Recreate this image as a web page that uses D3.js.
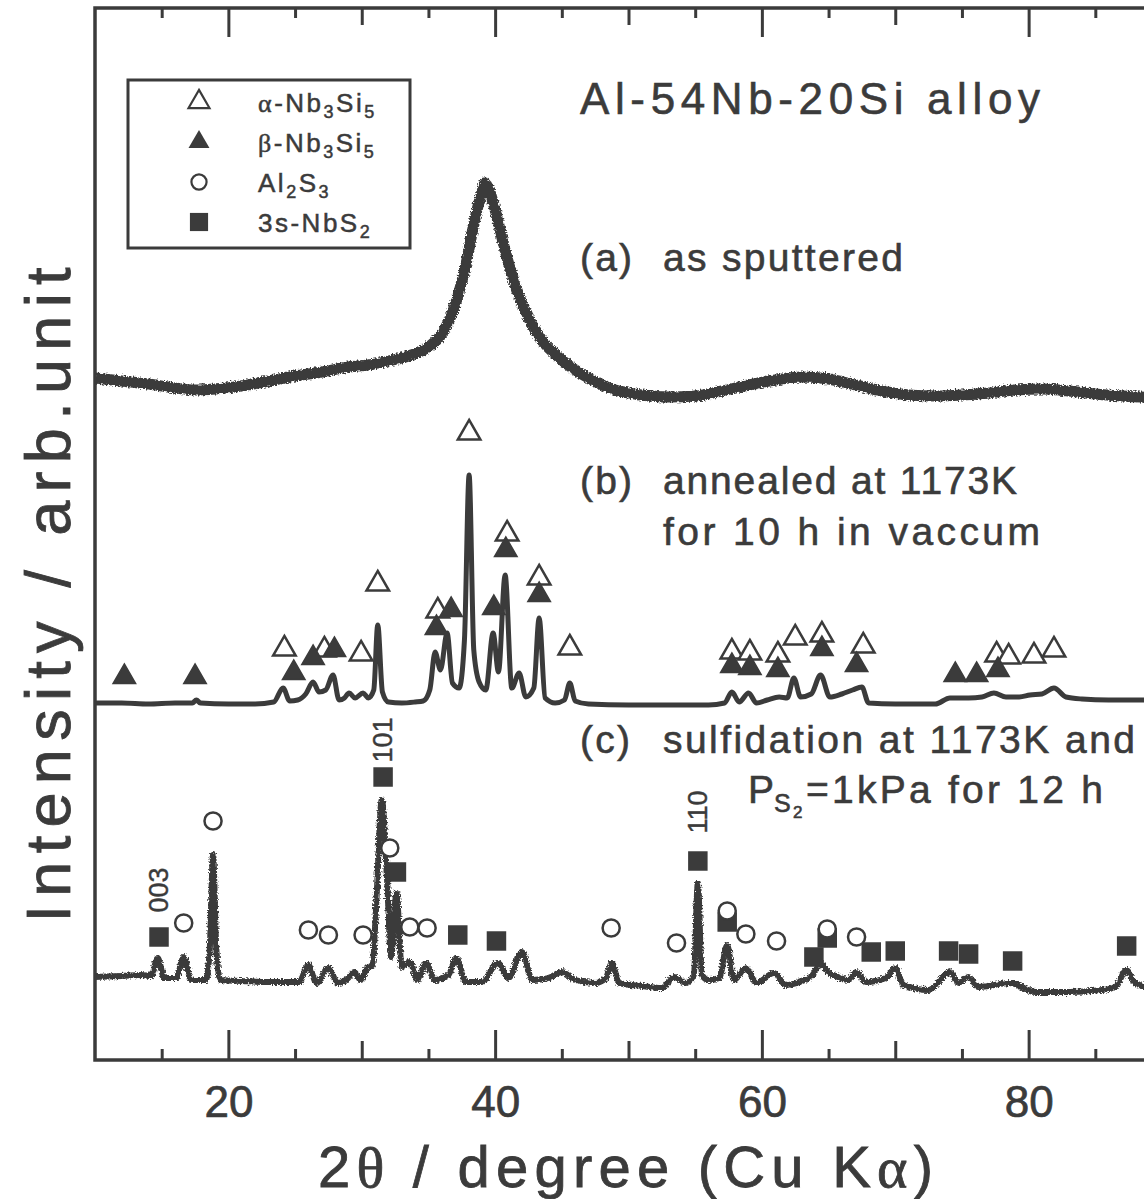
<!DOCTYPE html>
<html><head><meta charset="utf-8">
<script src="https://cdn.jsdelivr.net/npm/d3@7"></script>
<style>body{margin:0;background:#fff} svg{display:block}</style>
</head><body>
<script>
// ---------- data (2θ in degrees, intensity in arb. units on a common stacked scale) ----------
const xMajorTicks = [20, 40, 60, 80];
const xMediumTicks = [30, 50, 70];
const xMinorTicks = [15, 25, 35, 45, 55, 65, 75, 85];

const traceA = [[10,682],[12,679],[14,676],[16,672],[17.5,670],[19,671],[21,674],[23,679],[25,684],[27,688],[29,693],[30.5,695],[32,699],[33.5,704],[35,713],[36,726],[37,755],[37.8,795],[38.5,842],[39.0,868],[39.2,877],[39.5,872],[40.0,850],[40.7,812],[41.5,775],[42.5,742],[43.5,720],[45,700],[47,682],[49,670],[51,665],[53,663],[55,664],[57,669],[59,675],[61,680],[63,683],[65,681],[67,675],[69,669],[71,665],[73,664],[75,665],[77,667],[79,670],[81,671],[83,669],[85,666],[87,664],[90,662]];

const traceB = [[10,357],[12,357],[14,356],[16,357],[17.3,357],[17.6,360],[17.9,357],[20,356],[22,356],[23.4,358],[24.1,372],[24.6,359],[25.2,360],[25.8,366],[26.35,378],[26.8,368],[27.3,370],[27.85,385],[28.3,360],[28.7,362],[29.05,367],[29.5,362],[30.1,367],[30.5,362],[30.9,370],[31.2,435],[31.55,368],[32.0,358],[33,357],[34,358],[34.6,359],[35.1,370],[35.5,408],[35.9,390],[36.4,427],[36.8,377],[37.3,372],[37.7,420],[38.05,585],[38.4,410],[38.8,378],[39.3,370],[39.85,427],[40.25,388],[40.75,485],[41.25,372],[41.8,387],[42.3,363],[42.9,372],[43.3,442],[43.75,362],[44.5,357],[45.2,360],[45.6,377],[46.0,359],[47,356],[50,355],[53,355],[56,355],[57.2,357],[57.75,368],[58.3,358],[59.0,367],[59.6,357],[60.4,360],[61.3,363],[61.9,362],[62.4,382],[62.9,363],[63.7,366],[64.4,385],[65.1,363],[66.0,366],[66.8,370],[67.5,373],[68.0,357],[70,356],[73,356],[74.1,362],[75.5,362],[76.5,363],[77.4,367],[78.3,363],[79.3,363],[80.1,365],[81.0,366],[81.9,372],[82.8,363],[84,361],[86,360],[88,360],[90,360]];

const traceC = [[10,83],[12,84],[13.5,85],[14.2,84],[14.7,102],[15.2,82],[16.1,82],[16.65,103],[17.2,80],[18.3,80],[18.6,110],[18.85,205],[19.1,110],[19.4,80],[21,79],[23,78],[25.3,78],[26.0,95],[26.6,77],[27.5,92],[28.2,77],[28.9,81],[29.45,88],[29.9,80],[30.4,92],[30.8,95],[31.1,160],[31.5,260],[31.9,180],[32.2,103],[32.6,167],[33.0,93],[33.6,98],[34.2,80],[34.8,97],[35.5,80],[36.5,85],[37.1,102],[37.8,78],[39,78],[40.2,97],[41.0,82],[42.0,108],[42.8,80],[44,82],[45.0,88],[46,80],[47.5,77],[48.3,82],[48.75,97],[49.3,77],[51,74],[52.5,72],[53.4,83],[54.3,77],[54.9,85],[55.2,177],[55.5,85],[56.0,80],[56.8,82],[57.4,115],[57.9,80],[58.8,92],[59.6,77],[60.9,87],[61.8,75],[62.8,78],[63.8,85],[64.4,97],[64.8,90],[65.7,83],[66.5,80],[67.1,88],[67.8,78],[69.3,82],[70.0,92],[70.6,75],[72.5,70],[74.1,88],[74.7,77],[75.5,83],[76.2,73],[78.6,77],[80.5,68],[83,68],[85.5,70],[86.5,73],[87.35,90],[87.9,78],[89,73],[90,73]];

// peak identification markers [2θ, marker height]
const alphaNb3Si5 = [[24.2,411],[27.2,410],[29.95,406],[31.2,476],[35.7,449],[38.05,627],[40.9,526],[43.3,482],[45.6,412],[57.75,408],[59.1,407],[61.2,405],[62.5,422],[64.5,425],[67.6,414],[77.6,405],[78.5,403],[80.4,404],[81.9,410]];
const betaNb3Si5 = [[12.2,383],[17.5,383],[24.9,387],[26.35,402],[27.95,410],[35.6,432],[36.7,450],[39.9,452],[40.8,510],[43.3,465],[57.75,394],[59.1,392],[61.2,390],[64.5,411],[67.1,395],[74.5,385],[76.1,385],[77.7,390]];
const al2S3 = [[16.65,137],[18.85,239],[26.0,130],[27.5,125],[30.1,125],[32.1,212],[33.6,133],[34.9,132],[48.7,132],[53.6,117],[57.4,149],[58.8,126],[61.1,119],[64.9,131],[67.1,123]];
const nbS2 = [[14.8,123],[31.6,283],[32.6,188],[37.2,125],[40.1,119],[55.2,199],[57.4,138],[63.9,103],[64.9,122],[68.2,108],[70.0,109],[74.0,109],[75.5,106],[78.8,99],[87.35,114]];
const hklLabels = [["003",14.8,170],["101",31.6,320],["110",55.2,248]];

const legendItems = [
  {sym:"openTri", parts:[["α","g"],["-Nb",""],["3","s"],["Si",""],["5","s"]]},
  {sym:"fillTri", parts:[["β","g"],["-Nb",""],["3","s"],["Si",""],["5","s"]]},
  {sym:"circle",  parts:[["Al",""],["2","s"],["S",""],["3","s"]]},
  {sym:"square",  parts:[["3s-NbS",""],["2","s"]]}
];

// ---------- drawing ----------
const W = 1144, H = 1199;
const ink = "#3b3b3b";
const sans = "'Liberation Sans', Arial, Helvetica, sans-serif";
const serif = "'Liberation Serif', 'DejaVu Serif', serif";

const svg = d3.select("body").append("svg").attr("width", W).attr("height", H)
  .style("font-family", sans);
svg.append("rect").attr("width", W).attr("height", H).attr("fill", "#fff");

const defs = svg.append("defs");
const rough = defs.append("filter").attr("id", "rough").attr("x", "-5%").attr("y", "-20%")
  .attr("width", "110%").attr("height", "140%");
rough.append("feTurbulence").attr("type", "fractalNoise").attr("baseFrequency", 0.6)
  .attr("numOctaves", 2).attr("seed", 3).attr("result", "n");
rough.append("feDisplacementMap").attr("in", "SourceGraphic").attr("in2", "n")
  .attr("scale", 5).attr("xChannelSelector", "R").attr("yChannelSelector", "G");

const x = d3.scaleLinear().domain([10, 90]).range([95, 1162]);
const y = d3.scaleLinear().domain([0, 1052]).range([1060, 8]);

defs.append("clipPath").attr("id", "plotclip").append("rect")
  .attr("x", x(10)).attr("y", y(1052)).attr("width", x(90) - x(10)).attr("height", y(0) - y(1052));

const line = d3.line().x(d => x(d[0])).y(d => y(d[1])).curve(d3.curveMonotoneX);
const g = svg.append("g").attr("clip-path", "url(#plotclip)");
g.append("path").datum(traceA).attr("d", line).attr("fill", "none").attr("stroke", ink)
  .attr("stroke-width", 11).attr("stroke-linejoin", "round").attr("filter", "url(#rough)");
g.append("path").datum(traceB).attr("d", line).attr("fill", "none").attr("stroke", ink)
  .attr("stroke-width", 5).attr("stroke-linejoin", "round");
g.append("path").datum(traceC).attr("d", line).attr("fill", "none").attr("stroke", ink)
  .attr("stroke-width", 6).attr("stroke-linejoin", "round").attr("filter", "url(#rough)");

// axes (ticks inward on bottom and top)
function tickAxis(axisFn, vals, len, yPos, labels) {
  const a = axisFn(x).tickValues(vals).tickSize(-len).tickPadding(0)
    .tickFormat(labels ? d3.format("d") : "");
  const ag = svg.append("g").attr("transform", `translate(0,${yPos})`).call(a);
  ag.select(".domain").remove();
  ag.selectAll(".tick line").attr("stroke", ink).attr("stroke-width", 3);
  return ag;
}
const bot = tickAxis(d3.axisBottom, xMajorTicks, 30, y(0), true);
bot.selectAll(".tick text").attr("y", 57).attr("dy", 0).attr("fill", ink)
  .attr("stroke", ink).attr("stroke-width", 0.7)
  .style("font-size", "44px").style("font-family", sans);
tickAxis(d3.axisBottom, xMediumTicks, 19, y(0), false);
tickAxis(d3.axisBottom, xMinorTicks, 11, y(0), false);
tickAxis(d3.axisTop, xMajorTicks, 29, y(1052), false);
tickAxis(d3.axisTop, xMediumTicks, 17, y(1052), false);
tickAxis(d3.axisTop, xMinorTicks, 10, y(1052), false);

// frame
svg.append("rect").attr("x", x(10)).attr("y", y(1052)).attr("width", x(90) - x(10))
  .attr("height", y(0) - y(1052)).attr("fill", "none").attr("stroke", ink).attr("stroke-width", 3.5);

// markers
const triPath = d3.symbol(d3.symbolTriangle, 220)();
const sqPath = d3.symbol(d3.symbolSquare, 380)();
const circPath = d3.symbol(d3.symbolCircle, 230)();
const mk = svg.append("g");
mk.selectAll(".at").data(alphaNb3Si5).join("path").attr("d", triPath)
  .attr("transform", d => `translate(${x(d[0])},${y(d[1])})`)
  .attr("fill", "#fff").attr("stroke", ink).attr("stroke-width", 2.5);
mk.selectAll(".bt").data(betaNb3Si5).join("path").attr("d", triPath)
  .attr("transform", d => `translate(${x(d[0])},${y(d[1])})`)
  .attr("fill", ink).attr("stroke", ink).attr("stroke-width", 1.5);
mk.selectAll(".sq").data(nbS2).join("path").attr("d", sqPath)
  .attr("transform", d => `translate(${x(d[0])},${y(d[1])})`)
  .attr("fill", ink);
mk.selectAll(".ci").data(al2S3).join("path").attr("d", circPath)
  .attr("transform", d => `translate(${x(d[0])},${y(d[1])})`)
  .attr("fill", "#fff").attr("stroke", ink).attr("stroke-width", 2.5);

svg.selectAll(".hkl").data(hklLabels).join("text")
  .attr("transform", d => `translate(${x(d[1]) + 9},${y(d[2])}) rotate(-90)`)
  .attr("text-anchor", "middle").attr("fill", ink).attr("stroke", ink).attr("stroke-width", 0.4)
  .style("font-size", "27px").text(d => d[0]);

// legend
svg.append("rect").attr("x", 128).attr("y", 80).attr("width", 282).attr("height", 168)
  .attr("fill", "#fff").attr("stroke", ink).attr("stroke-width", 3);
const lg = svg.append("g");
legendItems.forEach((it, i) => {
  const cy = 102 + i * 40;
  const p = lg.append("path").attr("transform", `translate(199,${cy})`);
  if (it.sym === "openTri") p.attr("d", d3.symbol(d3.symbolTriangle, 190)()).attr("fill", "#fff").attr("stroke", ink).attr("stroke-width", 2.2);
  if (it.sym === "fillTri") p.attr("d", d3.symbol(d3.symbolTriangle, 190)()).attr("fill", ink);
  if (it.sym === "circle") p.attr("d", d3.symbol(d3.symbolCircle, 180)()).attr("fill", "#fff").attr("stroke", ink).attr("stroke-width", 2.2);
  if (it.sym === "square") p.attr("d", d3.symbol(d3.symbolSquare, 330)()).attr("fill", ink);
  const t = lg.append("text").attr("x", 258).attr("y", cy + 10).attr("fill", ink)
    .attr("stroke", ink).attr("stroke-width", 0.5)
    .style("font-size", "26px").style("letter-spacing", "2.5px");
  let shifted = false;
  it.parts.forEach(pt => {
    const ts = t.append("tspan").text(pt[0]);
    if (pt[1] === "g") ts.style("font-family", serif);
    if (pt[1] === "s") {
      ts.style("font-size", "18px").attr("dy", shifted ? 0 : 6); shifted = true;
    } else {
      ts.attr("dy", shifted ? -6 : 0); shifted = false;
    }
  });
});

// annotation texts
function txt(xp, yp, s, size, len) {
  const t = svg.append("text").attr("x", xp).attr("y", yp).attr("fill", ink)
    .attr("stroke", ink).attr("stroke-width", 0.6)
    .style("font-size", size + "px").text(s);
  if (len) t.attr("textLength", len).attr("lengthAdjust", "spacing");
  return t;
}
txt(580, 114, "Al-54Nb-20Si alloy", 44, 460);
txt(580, 271, "(a)", 39, 52);
txt(663, 271, "as sputtered", 39, 240);
txt(580, 494, "(b)", 39, 52);
txt(663, 494, "annealed at 1173K", 39, 354);
txt(663, 545, "for 10 h in vaccum", 39, 377);
txt(580, 753, "(c)", 39, 50);
txt(663, 753, "sulfidation at 1173K and", 39, 472);
txt(748, 803, "P", 39);
txt(774, 812, "S", 25);
txt(793, 818, "2", 17);
txt(806, 803, "=1kPa for 12 h", 39, 297);

// axis titles
const xt = svg.append("text").attr("x", 318).attr("y", 1187).attr("fill", ink)
  .attr("stroke", ink).attr("stroke-width", 0.8)
  .style("font-size", "58px").attr("textLength", 615).attr("lengthAdjust", "spacing");
xt.append("tspan").text("2");
xt.append("tspan").text("θ").style("font-family", serif);
xt.append("tspan").text(" / degree (Cu K");
xt.append("tspan").text("α").style("font-family", serif);
xt.append("tspan").text(")");

svg.append("text").attr("transform", "translate(70,595) rotate(-90)")
  .attr("text-anchor", "middle").attr("fill", ink).attr("stroke", ink).attr("stroke-width", 0.8)
  .style("font-size", "63px").attr("textLength", 655).attr("lengthAdjust", "spacing")
  .text("Intensity / arb.unit");
</script>
</body></html>
